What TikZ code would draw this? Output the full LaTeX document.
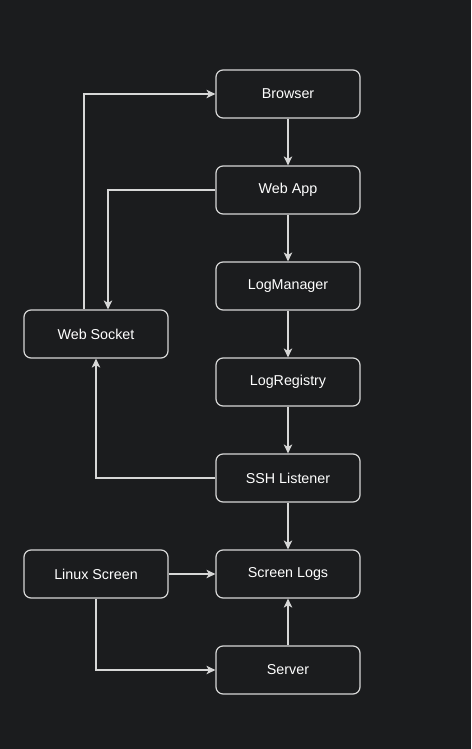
\documentclass[tikz,border=0pt]{standalone}
\usepackage{fontspec}
\setmainfont{Liberation Sans}
\usetikzlibrary{arrows.meta}
\definecolor{bg}{RGB}{27,28,30}
\definecolor{ln}{RGB}{215,215,215}
\begin{document}
\begin{tikzpicture}[x=1pt,y=-1pt,
  box/.style={draw=ln,line width=1.2pt,fill=bg,rounded corners=7pt,minimum width=144pt,minimum height=48pt,inner sep=0pt,text=white,font=\fontsize{14.3}{16}\selectfont},
  conn/.style={draw=ln,line width=1.2pt,-{Stealth[length=9pt,width=8.5pt,inset=2.5pt]}}]
\fill[bg] (0,0) rectangle (471,749);
\useasboundingbox (0,0) rectangle (471,749);
\node[box] (browser) at (288,94) {Browser};
\node[box] (webapp) at (288,190) {Web App};
\node[box] (logman) at (288,286) {LogManager};
\node[box] (logreg) at (288,382) {LogRegistry};
\node[box] (ssh) at (288,478) {SSH Listener};
\node[box] (screenlogs) at (288,574) {Screen Logs};
\node[box] (server) at (288,670) {Server};
\node[box] (websocket) at (96,334) {Web Socket};
\node[box] (linux) at (96,574) {Linux Screen};
\draw[conn] (browser) -- (webapp);
\draw[conn] (webapp) -- (logman);
\draw[conn] (logman) -- (logreg);
\draw[conn] (logreg) -- (ssh);
\draw[conn] (ssh) -- (screenlogs);
\draw[conn] (server) -- (screenlogs);
\draw[conn] (linux) -- (screenlogs);
\draw[conn] (webapp.west) -| ([xshift=12pt]websocket.north);
\draw[conn] ([xshift=-12pt]websocket.north) |- (browser.west);
\draw[conn] (ssh.west) -| (websocket.south);
\draw[conn] (linux.south) |- (server.west);
\end{tikzpicture}
\end{document}
